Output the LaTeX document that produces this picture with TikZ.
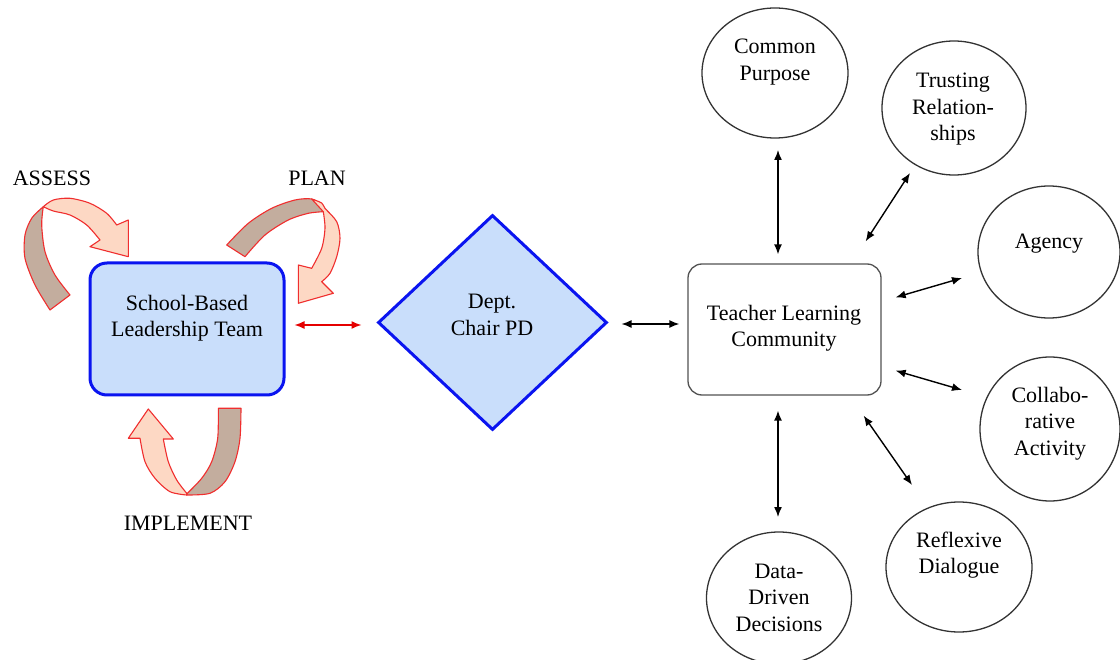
\documentclass[tikz,border=0pt]{standalone}
\usepackage{fontspec}
\setmainfont{Liberation Serif}
\usetikzlibrary{shapes.geometric,arrows.meta}
\definecolor{boxblue}{HTML}{C9DEFB}
\definecolor{edgeblue}{HTML}{0A14F0}
\definecolor{peach}{HTML}{FDD8C4}
\definecolor{ribbontan}{HTML}{C3AD9E}
\definecolor{ribbonred}{HTML}{F02E2E}
\definecolor{outline}{HTML}{333333}
\begin{document}
\begin{tikzpicture}[x=1pt,y=-1pt,
  lbl/.style={font=\rmfamily\fontsize{22}{26.5}\selectfont, align=center, inner sep=0pt},
  bluebox/.style={draw=edgeblue, line width=3pt, fill=boxblue, rounded corners=17pt,
    minimum width=194pt, minimum height=132pt, inner sep=0pt},
  bluediamond/.style={diamond, draw=edgeblue, line width=3pt, fill=boxblue,
    minimum width=229pt, minimum height=215pt, inner sep=0pt},
  greybox/.style={draw=outline!85, line width=1.3pt, rounded corners=14pt,
    minimum width=193pt, minimum height=131pt, inner sep=0pt},
  bubble/.style={ellipse, draw=outline, line width=1.3pt, inner sep=0pt},
  link/.style={line width=1.4pt, {Latex[length=10pt,width=8pt]}-{Latex[length=10pt,width=8pt]}},
  redlink/.style={link, draw=red!90!black, color=red!90!black},
  ribbonback/.style={fill=ribbontan, draw=ribbonred, line width=1.1pt, line join=round},
  ribbonfront/.style={fill=peach, draw=ribbonred, line width=1.1pt, line join=round}
]
\fill[white] (0,0) rectangle (1120,660);
\useasboundingbox (0,0) rectangle (1120,660);

% ---- cycle of the leadership team ----
% ASSESS ribbon
\filldraw[ribbonback] plot[smooth] coordinates {(50,310) (35,285) (25,258.3) (25,235) (31.7,218.3) (43.3,206.7)}
  -- plot[smooth] coordinates {(43.3,206.7) (41.7,225) (45,251.7) (55,275) (70,295)} -- cycle;
\filldraw[ribbonfront] plot[smooth] coordinates {(43.3,206.7) (53.3,200) (70,198.3) (90,203.3) (106.7,213.3) (116.7,225)}
  -- (128.3,220) -- (128.3,256.7) -- (90,246.7)
  -- plot[smooth] coordinates {(100,240) (86.7,225) (70,215) (53.3,211) (43.3,206.7)} -- cycle;
% PLAN ribbon
\filldraw[ribbonback] plot[smooth] coordinates {(226.7,245) (248.3,223.3) (271.7,208.3) (295,200) (311.7,199) (321.7,205) (326.7,211.7)}
  -- plot[smooth] coordinates {(323.3,211.7) (308.3,213.3) (288.3,220) (265,235) (245,256.7)} -- cycle;
\filldraw[ribbonfront] plot[smooth] coordinates {(311.7,199) (321.7,203) (325,208.3) (336.7,221.7) (340,238.3) (336.7,256.7) (330,273.3) (321.7,281.7)}
  -- (333.3,293.3) -- (298.3,303.3) -- (298.3,265)
  -- plot[smooth] coordinates {(311.7,268.3) (321.7,248.3) (325,228.3) (323.3,211.7)} -- cycle;
% IMPLEMENT ribbon
\filldraw[ribbonback] (218.3,408.3) -- (241,408.3)
  -- plot[smooth] coordinates {(241,408.3) (240,438.3) (235,461.7) (225,481.7) (210,493.3) (186.7,495)}
  -- plot[smooth] coordinates {(186.7,494) (201.7,478.3) (211.7,461.7) (217.7,438.3) (218.3,408.3)} -- cycle;
\filldraw[ribbonfront] (148.3,409) -- (173.3,439) -- (163.3,439)
  -- plot[smooth] coordinates {(163.3,439) (168.3,461.7) (176.7,480) (186.7,493.3)}
  -- plot[smooth] coordinates {(186.7,495) (170,491.7) (155,478.3) (145,461.7) (140,438.3)}
  -- (128.3,438.3) -- cycle;

\node[lbl] (assess) at (52,178) {ASSESS};
\node[lbl] (plan) at (317,178) {PLAN};
\node[lbl] (implement) at (188,523) {IMPLEMENT};

% ---- main blocks ----
\node[bluebox] (sblt) at (187,329) {};
\node[lbl] (sbltText) at (187,318) {School-Based\\Leadership Team};
\node[bluediamond] (dept) at (492.5,322.5) {};
\node[lbl] (deptText) at (492,315) {Dept.\\Chair PD};
\node[greybox] (tlc) at (784.5,329.5) {};
\node[lbl] (tlcText) at (784,328) {Teacher Learning\\Community};

% ---- surrounding elements ----
\node[bubble, minimum width=146pt, minimum height=130pt] (cp) at (775,73) {};
\node[lbl] (cpText) at (775,62) {Common\\Purpose};
\node[bubble, minimum width=144pt, minimum height=134pt] (tr) at (954,108) {};
\node[lbl] (trText) at (953,109.5) {Trusting\\Relation-\\ships};
\node[bubble, minimum width=142pt, minimum height=132pt] (ag) at (1049,252) {};
\node[lbl] (agText) at (1049,243.5) {Agency};
\node[bubble, minimum width=140pt, minimum height=144pt] (ca) at (1050,429) {};
\node[lbl] (caText) at (1050,423.5) {Collabo-\\rative\\Activity};
\node[bubble, minimum width=146pt, minimum height=130pt] (rd) at (959,567) {};
\node[lbl] (rdText) at (959,555) {Reflexive\\Dialogue};
\node[bubble, minimum width=145pt, minimum height=132pt] (dd) at (779,598) {};
\node[lbl] (ddText) at (779,597.5) {Data-\\Driven\\Decisions};

% ---- connectors ----
\draw[redlink] ([shift={(9,-4)}]sblt.east) -- ([shift={(-15,2.5)}]dept.west);
\draw[link] ([shift={(13,1.5)}]dept.east) -- ([shift={(-8,-5.5)}]tlc.west);
\draw[link] ([shift={(-6.5,-9)}]tlc.north) -- ([shift={(3,77)}]cp.center);
\draw[link] ([shift={(-16,-22)}]tlc.north east) -- ([shift={(-44,65)}]tr.center);
\draw[link] ([shift={(14,34)}]tlc.north east) -- ([shift={(-87,26)}]ag.center);
\draw[link] ([shift={(14,-25)}]tlc.south east) -- ([shift={(-88,-39)}]ca.center);
\draw[link] ([shift={(-18,20)}]tlc.south east) -- ([shift={(-47,-82)}]rd.center);
\draw[link] ([shift={(-6.5,15)}]tlc.south) -- ([shift={(-1,-81)}]dd.center);
\end{tikzpicture}
\end{document}
